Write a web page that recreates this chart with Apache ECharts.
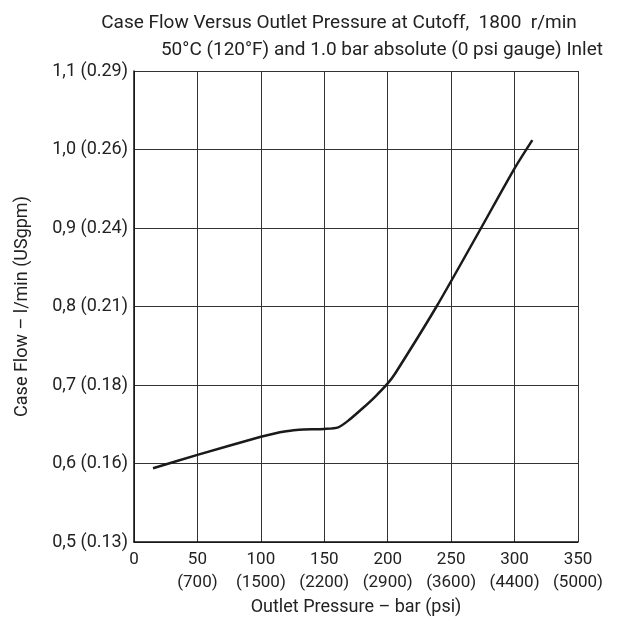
<!DOCTYPE html>
<html><head><meta charset="utf-8">
<script src="https://cdn.jsdelivr.net/npm/echarts@6/dist/echarts.min.js"></script>
<style>html,body{margin:0;padding:0;background:#fff}#c{width:621px;height:617px}</style>
</head><body><div id="c"></div>
<script>
const pressureBar = [15, 50, 100, 110, 120, 130, 150, 161, 170, 180, 190, 200, 206, 238.5, 273.6, 300, 314];
const caseFlow   = [0.594, 0.611, 0.634, 0.638, 0.641, 0.643, 0.644, 0.646, 0.656, 0.670, 0.685, 0.702, 0.715, 0.800, 0.900, 0.976, 1.012];
const xTicksBar = [0, 50, 100, 150, 200, 250, 300, 350];
const xTicksPsi = ['', '(700)', '(1500)', '(2200)', '(2900)', '(3600)', '(4400)', '(5000)'];
const yTicks = [0.5, 0.6, 0.7, 0.8, 0.9, 1.0, 1.1];
const yTickLabels = ['0,5 (0.13)', '0,6 (0.16)', '0,7 (0.18)', '0,8 (0.21)', '0,9 (0.24)', '1,0 (0.26)', '1,1 (0.29)'];
const titleLine1 = 'Case Flow Versus Outlet Pressure at Cutoff,  1800  r/min';
const titleLine2 = '50°C (120°F) and 1.0 bar absolute (0 psi gauge) Inlet';
const xName = 'Outlet Pressure – bar (psi)';
const yName = 'Case Flow – l/min (USgpm)';

const FONT = 'Roboto';
const chart = echarts.init(document.getElementById('c'));
chart.setOption({
  animation: false,
  backgroundColor: '#fff',
  title: [
    {text: titleLine1, left: 334, top: 9, textAlign: 'center', textStyle: {fontFamily: FONT, fontSize: 19, fontWeight: 'normal', color: '#222'}},
    {text: titleLine2, right: 13, top: 36, textStyle: {fontFamily: FONT, fontSize: 19, fontWeight: 'normal', color: '#222'}}
  ],
  grid: {left: 134, right: 43, top: 71, bottom: 75, containLabel: false, outerBoundsMode: 'none'},
  xAxis: {
    type: 'value', min: 0, max: 350, interval: 50,
    name: xName, nameLocation: 'middle', nameGap: 52,
    nameTextStyle: {fontFamily: FONT, fontSize: 18, color: '#222'},
    axisLine: {show: true, lineStyle: {color: '#111', width: 1.5}},
    axisTick: {show: false},
    axisLabel: {
      fontFamily: FONT, fontSize: 17, color: '#222', margin: 6, lineHeight: 23,
      formatter: function (v) {
        const i = xTicksBar.indexOf(v);
        return i > 0 ? v + '\n' + xTicksPsi[i] : String(v) + '\n ';
      }
    },
    splitLine: {show: true, lineStyle: {color: '#333', width: 1}}
  },
  yAxis: {
    type: 'value', min: 0.5, max: 1.1, interval: 0.1,
    name: yName, nameLocation: 'middle', nameGap: 103, nameRotate: 90,
    nameTextStyle: {fontFamily: FONT, fontSize: 18, color: '#222'},
    axisLine: {show: true, lineStyle: {color: '#111', width: 1.5}},
    axisTick: {show: false},
    axisLabel: {
      fontFamily: FONT, fontSize: 18, color: '#222', margin: 6,
      formatter: function (v) {
        const i = yTicks.findIndex(t => Math.abs(t - v) < 1e-6);
        return i >= 0 ? yTickLabels[i] : '';
      }
    },
    splitLine: {show: true, lineStyle: {color: '#333', width: 1}}
  },
  series: [{
    type: 'line',
    data: pressureBar.map((x, i) => [x, caseFlow[i]]),
    showSymbol: false,
    smooth: 0.25,
    lineStyle: {color: '#1a1a1a', width: 2.5}
  }]
});
</script></body></html>
